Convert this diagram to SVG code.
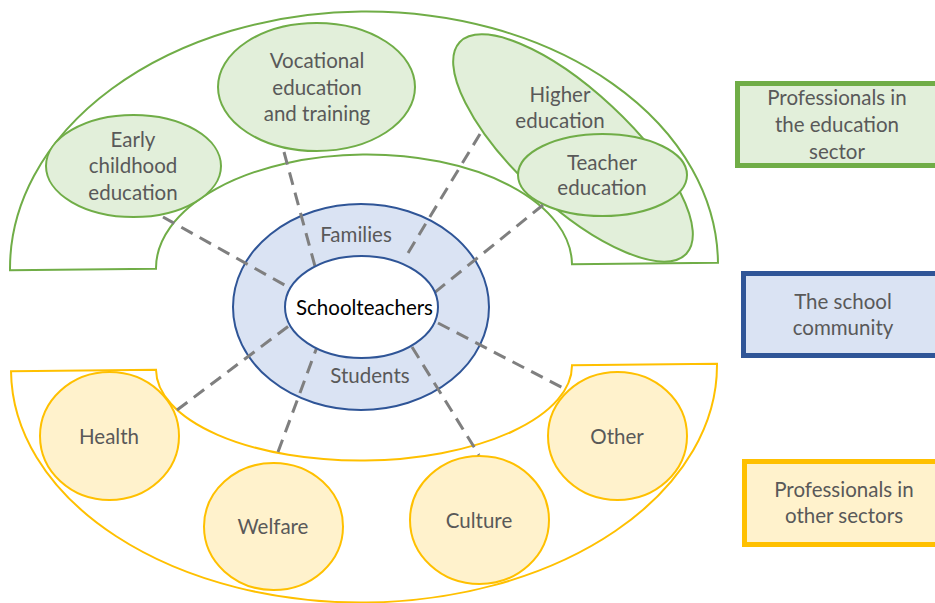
<svg xmlns="http://www.w3.org/2000/svg" width="935" height="603" viewBox="0 0 935 603">
  <style>
    .lbl { font-family: Lato, "Liberation Sans", sans-serif; font-size: 20.5px; fill: #595959; text-anchor: middle; }
    .edu { fill: #e2efda; stroke: #70ad47; stroke-width: 2; }
    .oth { fill: #fff2cc; stroke: #ffc000; stroke-width: 2; }
    .com { fill: #dae3f3; stroke: #2f5597; stroke-width: 2; }
    .band-edu { fill: #ffffff; stroke: #70ad47; stroke-width: 2; }
    .band-oth { fill: #ffffff; stroke: #ffc000; stroke-width: 2; }
    .link { stroke: #7f7f7f; stroke-width: 3; stroke-dasharray: 13 8; fill: none; }
  </style>

  <!-- sector bands: half rings around the centre, tilted slightly -->
  <g id="band-education" transform="rotate(-0.6 364 266.5)">
    <path class="band-edu" d="M 10 266.5 A 354 255 0 0 1 718 266.5 L 572 266.5 A 208 112 0 0 0 156 266.5 Z"/>
  </g>
  <g id="band-other" transform="rotate(-0.6 364 367.5)">
    <path class="band-oth" d="M 11 367.5 L 156 367.5 A 208 93 0 0 0 572 367.5 L 717 367.5 A 353 235 0 0 1 11 367.5 Z"/>
  </g>

  <!-- education sector nodes -->
  <g id="early-childhood">
    <ellipse class="edu" cx="133.5" cy="166" rx="87.5" ry="51"/>
    <text class="lbl" x="133" y="147">Early</text>
    <text class="lbl" x="133" y="173">childhood</text>
    <text class="lbl" x="133" y="200">education</text>
  </g>
  <g id="vocational">
    <ellipse class="edu" cx="316.5" cy="87" rx="98.5" ry="64"/>
    <text class="lbl" x="317" y="68">Vocational</text>
    <text class="lbl" x="317" y="95">education</text>
    <text class="lbl" x="317" y="121">and training</text>
  </g>
  <g id="higher-education">
    <ellipse class="edu" cx="573" cy="148" rx="155" ry="57" transform="rotate(43 573 148)"/>
    <text class="lbl" x="560" y="102">Higher</text>
    <text class="lbl" x="560" y="128">education</text>
  </g>
  <g id="teacher-education">
    <ellipse class="edu" cx="602.5" cy="175" rx="84.5" ry="41"/>
    <text class="lbl" x="602" y="170">Teacher</text>
    <text class="lbl" x="602" y="195">education</text>
  </g>

  <!-- other sector nodes -->
  <g id="health">
    <ellipse class="oth" cx="109.5" cy="436" rx="69.5" ry="64"/>
    <text class="lbl" x="109" y="444">Health</text>
  </g>
  <g id="welfare">
    <ellipse class="oth" cx="273.5" cy="526.5" rx="69.5" ry="63.5"/>
    <text class="lbl" x="273" y="534">Welfare</text>
  </g>
  <g id="culture">
    <ellipse class="oth" cx="479.5" cy="520" rx="69.5" ry="64"/>
    <text class="lbl" x="479" y="528">Culture</text>
  </g>
  <g id="other">
    <ellipse class="oth" cx="617.5" cy="436" rx="69.5" ry="64"/>
    <text class="lbl" x="617" y="444">Other</text>
  </g>

  <!-- school community ring -->
  <g id="community">
    <ellipse class="com" cx="361" cy="307" rx="128" ry="103"/>
    <text class="lbl" x="356" y="242">Families</text>
    <text class="lbl" x="370" y="383">Students</text>
  </g>

  <!-- dashed links to the centre -->
  <g id="connectors">
    <line class="link" x1="163" y1="217" x2="290" y2="288"/>
    <line class="link" x1="284" y1="152" x2="316" y2="270"/>
    <line class="link" x1="480" y1="134" x2="405" y2="258"/>
    <line class="link" x1="543" y1="205" x2="434" y2="293"/>
    <line class="link" x1="177" y1="410" x2="290" y2="325"/>
    <line class="link" x1="278" y1="452" x2="317" y2="347"/>
    <line class="link" x1="412" y1="347" x2="479" y2="455"/>
    <line class="link" x1="438" y1="323" x2="565" y2="389"/>
  </g>

  <g id="schoolteachers">
    <ellipse cx="361.5" cy="307" rx="76.5" ry="51" fill="#ffffff" stroke="#2f5597" stroke-width="2"/>
    <text x="364.5" y="315" font-family="Lato, 'Liberation Sans', sans-serif" font-size="20.5" fill="#000000" text-anchor="middle">Schoolteachers</text>
  </g>

  <!-- legend -->
  <g id="legend-education">
    <rect x="737.5" y="83.5" width="205" height="82" fill="#e2efda" stroke="#70ad47" stroke-width="5"/>
    <text class="lbl" x="837" y="105">Professionals in</text>
    <text class="lbl" x="837" y="132">the education</text>
    <text class="lbl" x="837" y="159">sector</text>
  </g>
  <g id="legend-community">
    <rect x="743.5" y="273.5" width="205" height="82" fill="#dae3f3" stroke="#2f5597" stroke-width="5"/>
    <text class="lbl" x="843" y="309">The school</text>
    <text class="lbl" x="843" y="335">community</text>
  </g>
  <g id="legend-other">
    <rect x="744.5" y="461.5" width="205" height="83" fill="#fff2cc" stroke="#ffc000" stroke-width="5"/>
    <text class="lbl" x="844" y="497">Professionals in</text>
    <text class="lbl" x="844" y="523">other sectors</text>
  </g>
</svg>
